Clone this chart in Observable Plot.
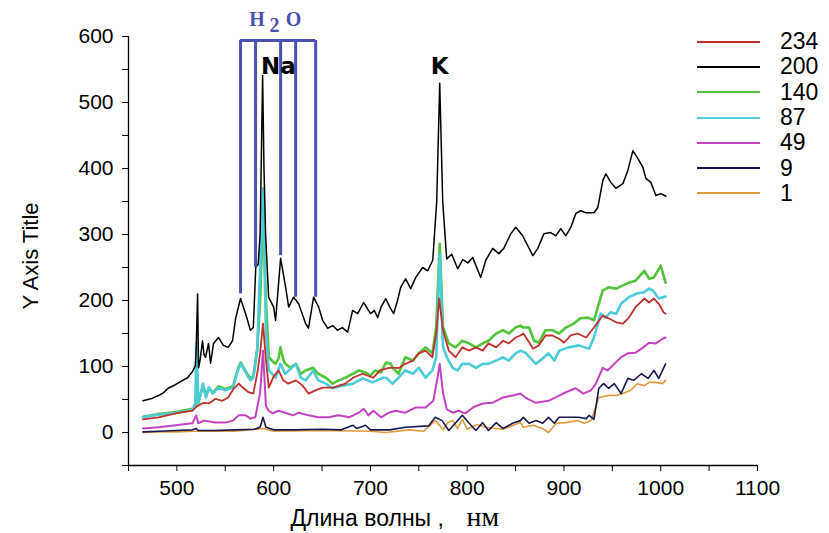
<!DOCTYPE html>
<html><head><meta charset="utf-8">
<script src="https://cdn.jsdelivr.net/npm/d3@7"></script>
<script src="https://cdn.jsdelivr.net/npm/@observablehq/plot@0.6"></script>
<style>
body{margin:0;background:#fff;}
#wrap{position:relative;width:829px;height:533px;font-family:"Liberation Sans",Arial,sans-serif;background:#fff;}
#legend{position:absolute;left:697px;top:29px;}
.row{display:flex;align-items:center;height:25.3px;}
.sw{width:63px;height:0;border-top-style:solid;margin-right:20px;}
.lab{font-size:23px;color:#000;line-height:1;}
</style></head><body><div id="wrap"></div>
<script>
// ---- data ----
const seriesNames = ["234","200","140","87","49","9","1"];

const wl200 = [465,470,475,481,486,491,498,506,511,516,519,520,521.4,522.4,524,526.5,528,529.6,532.7,534.8,537.9,543,548,553,557.5,560.7,565.8,571,576,579,581.5,584,586,588.6,590,591.7,594.8,600,602,607.2,612.4,615.5,620.6,625.8,633,636,641.3,646.5,650.6,655.8,661,666,671,676.5,681.6,686.8,693,698,700.3,704,707.5,711,715.8,720,724,728,731.3,736.4,741.6,746.8,754,759.2,764.4,768.5,771.6,774.7,778.8,784,790.2,795.4,800.6,805.7,814,819.2,826.4,832.6,837.8,845,850.2,857.4,867.8,873,879.2,886.4,891.6,896.7,901.9,907.1,912.3,917.4,922.6,930.9,935,940.2,943.3,948.4,953.6,960.9,966,971.2,976.4,981.5,984.6,989.8,995,1000.2,1005.3];
const v200 = [48,50,52,56,60,67,72,79,83,92,101,130,210,98,110,139,118,114,135,105,135,144,132,129,139,173,203,180,155,159,250,255,300,541,400,300,205,190,170,264,220,190,205,195,165,158,205,190,170,158,162,155,159,152,185,180,197,185,180,185,174,190,203,190,180,200,220,233,218,235,250,245,261,350,529,350,263,270,248,262,257,265,235,261,279,271,279,301,311,298,268,279,301,303,298,309,298,311,332,336,333,333,341,382,392,379,370,377,397,427,415,402,385,379,359,362,358];

const wl140 = [465,481,499,516,519,521,522,527,530,533,537,543,550,558,563,566,571,576,579,583,586,589,592,595,599,602,605,607,610,612,617,623,628,633,641,646,654,661,667,674,682,688,695,700,705,711,716,721,723,729,736,744,750,757,764,768,771.6,775,781,788,795,802,809,816,822,830,837,843,850,855,858,864,869,874,881,888,895,902,910,917,925,931,940,946,954,961,967,974,983,988,993,1000,1005];
const v140 = [24,28,31,36,40,70,44,72,55,68,60,70,66,70,96,106,93,82,85,126,200,330,200,114,108,104,112,129,110,104,98,104,89,94,98,89,83,74,79,83,89,94,91,86,94,91,106,104,98,89,114,109,120,129,120,160,286,160,135,129,139,135,129,135,139,150,155,150,159,162,159,159,139,136,155,155,150,159,165,173,174,170,215,220,218,223,227,230,245,233,235,253,227];

const wl87 = [465,481,499,516,519,520.5,522,527,530,533,537,543,550,558,563,566,571,576,579,583,586,589,592,595,602,607,612,623,628,633,641,646,654,661,671,682,692,702,713,716,723,729,736,744,750,757,764,768,771.6,775,779,785,790,795,802,809,816,822,830,837,843,850,855,860,871,878,884,890,895,905,915,926,931,938,943,948,954,959,967,976,982,988,992,998,1005];
const v87 = [23,27,30,34,44,135,44,74,53,68,59,68,64,68,94,104,91,79,83,124,250,370,155,94,83,104,89,104,83,79,94,79,74,67,71,74,82,76,83,83,74,83,94,89,98,83,94,114,270,130,114,98,94,104,104,98,104,104,109,114,109,120,124,121,104,112,120,109,124,129,132,127,144,180,174,182,180,195,205,211,212,218,215,203,206];

const wl234 = [465,481,499,516,521,528,533,540,547,553,559,564,569,574,579,583,586,589,592,595,600,605,610,615,623,630,636,645,651,661,674,682,692,703,710,719,730,736,744,750,757,764,768,771,775,781,788,795,802,809,816,822,830,837,843,850,855,858,863,868,874,881,888,895,900,907,914,923,931,940,946,954,961,967,974,983,988,993,998,1003,1005];
const v234 = [20,23,29,33,40,45,44,51,48,53,67,74,67,61,59,89,120,165,110,68,85,94,79,74,79,71,59,65,68,68,74,83,89,83,94,98,98,104,109,120,124,114,150,203,155,124,114,129,124,129,124,135,129,139,135,144,147,150,139,127,132,147,147,142,136,147,150,144,159,177,173,167,165,174,190,203,197,203,195,182,180];

const wl49 = [465,481,499,516,520,522,528,540,550,558,564,571,576,581,586,589,592,595,599,605,612,620,626,636,646,657,667,678,688,693,698,703,711,719,726,736,747,757,765,769,771.6,775,779,785,791,798,806,816,826,837,847,855,861,871,884,895,902,912,920,928,933,940,945,952,959,966,974,982,988,995,1002,1005];
const v49 = [6,8,11,14,26,14,18,15,15,18,26,26,21,23,60,124,40,33,29,33,30,26,30,26,23,23,26,23,30,36,26,33,23,30,33,30,38,38,48,80,104,60,35,30,33,29,38,44,45,53,56,59,52,45,48,56,61,67,59,64,74,98,94,104,114,120,121,129,136,135,142,144];

const wl9 = [465,481,499,516,520,522,540,560,580,586,589,592,600,620,650,670,682,686,695,700,720,736,760,767,774,781,795,802,809,816,822,830,837,847,855,858,864,871,878,884,890,895,905,915,923,926,931,936,941,946,952,959,966,972,980,987,993,998,1005];
const v9 = [1,2,3,4,6,3,3,4,5,8,23,8,4,4,5,4,11,6,11,4,4,8,10,23,18,3,26,14,3,15,3,15,6,14,18,23,14,18,14,23,14,23,23,23,21,26,20,67,74,67,74,59,82,79,89,82,94,82,104];

const wl1 = [465,481,499,516,540,560,589,600,650,700,716,740,755,767,772,775,780,785,790,795,800,810,819,837,855,858,868,878,884,892,902,914,921,928,936,946,954,961,969,976,983,988,995,1002,1005];
const v1 = [0,1,1,2,2,2,6,2,3,2,0,4,2,18,10,4,15,18,6,20,5,12,8,5,15,8,11,6,0,14,15,18,14,18,53,56,56,59,64,74,71,76,76,74,79];

// annotations
const h2oWl = [565.8, 581.3, 607.2, 622.7, 643.4];
const h2oEnd = [210, 250, 268, 205, 205];
const h2oTop = 594;
const h2oChars = ["H","2","O"];
const h2oCharWl = [582.9, 601, 620.6];
const h2oCharV = [626, 617, 626];
const peakNames = ["Na","K"];
const peakWl = [605, 771.6];
const peakV = [555, 555];

const xTicks = d3.range(450, 1101, 50);
const yTicks = d3.range(-50, 601, 50);
const xTitleMain = "Длина волны ,";
const xTitleUnit = "нм";
const yTitle = "Y Axis Title";

// ---- build ----
const raw = {"234":[wl234,v234],"200":[wl200,v200],"140":[wl140,v140],"87":[wl87,v87],"49":[wl49,v49],"9":[wl9,v9],"1":[wl1,v1]};
const style = {
  "234":{stroke:"#c2302b", w:1.8},
  "200":{stroke:"#000000", w:1.5},
  "140":{stroke:"#52c43a", w:2.6},
  "87":{stroke:"#4ccbd8", w:2.6},
  "49":{stroke:"#c441c2", w:2.0},
  "9":{stroke:"#17174f", w:1.6},
  "1":{stroke:"#e29a3d", w:1.6}
};
const drawOrder = ["140","87","234","49","1","9","200"];
function rows(name){ const [w,v]=raw[name]; return w.map((x,i)=>({wl:x, v:v[i]})); }

const h2oRules = h2oWl.map((w,i)=>({wl:w, end:h2oEnd[i]}));
const h2oText = h2oChars.map((c,i)=>({t:c, wl:h2oCharWl[i], v:h2oCharV[i]}));
const peaks = peakNames.map((n,i)=>({t:n, wl:peakWl[i], v:peakV[i]}));
const blue = "#4a51b4";

const marks = [];
for (const n of drawOrder) {
  marks.push(Plot.line(rows(n), {x:"wl", y:"v", stroke: style[n].stroke, strokeWidth: style[n].w, strokeLinejoin:"round"}));
}
marks.push(
  Plot.ruleX(h2oRules, {x:"wl", y1:"end", y2:()=>h2oTop, stroke:blue, strokeWidth:3}),
  Plot.ruleY([h2oTop], {x1:h2oWl[0], x2:h2oWl[h2oWl.length-1], stroke:blue, strokeWidth:3}),
  Plot.text(h2oText, {x:"wl", y:"v", text:"t", fill:blue, fontSize:20, fontWeight:"bold", fontFamily:"'Liberation Serif','DejaVu Serif',serif"}),
  Plot.text(peaks, {x:"wl", y:"v", text:"t", fill:"#000", fontSize:23, fontWeight:"bold", fontFamily:"'DejaVu Sans','Liberation Sans',sans-serif"}),
  Plot.ruleX([xTicks[0]], {stroke:"#000", strokeWidth:1.3}),
  Plot.ruleY([yTicks[0]], {stroke:"#000", strokeWidth:1.3}),
  Plot.axisX({ticks:xTicks, tickSize:6, tickPadding:9, tickFormat:d=> d%100===0 ? String(d) : "", label:null, fontSize:21, stroke:"#000"}),
  Plot.axisY({ticks:yTicks, tickSize:6, tickPadding:9, tickFormat:d=> (d%100===0 && d>=0) ? String(d) : "", label:null, fontSize:21, stroke:"#000"}),
  Plot.text([yTitle], {frameAnchor:"left", textAnchor:"middle", dx:-98, dy:5, rotate:-90, text:d=>d, fontSize:22, fill:"#000"}),
  Plot.text([xTitleMain], {frameAnchor:"bottom-left", textAnchor:"start", lineAnchor:"bottom", dx:162, dy:60, text:d=>d, fontSize:23, fill:"#000"}),
  Plot.text([xTitleUnit], {frameAnchor:"bottom-left", textAnchor:"start", lineAnchor:"bottom", dx:338, dy:60, text:d=>d, fontSize:28, fill:"#000", fontFamily:"'Liberation Serif',serif"})
);

const chart = Plot.plot({
  width: 829, height: 533,
  marginLeft: 128, marginRight: 72, marginTop: 36, marginBottom: 68,
  style: {fontFamily:"'Liberation Sans',Arial,sans-serif", fontSize:"21px", background:"#fff", color:"#000"},
  x: {domain:[450,1100]},
  y: {domain:[-50,600]},
  marks
});
const wrap = document.getElementById("wrap");
wrap.appendChild(chart);

// legend (inside plot area, top right)
const leg = document.createElement("div");
leg.id = "legend";
for (const n of seriesNames) {
  const r = document.createElement("div"); r.className = "row";
  const s = document.createElement("div"); s.className = "sw";
  s.style.borderTopColor = style[n].stroke; s.style.borderTopWidth = "2px";
  const l = document.createElement("span"); l.className = "lab"; l.textContent = n;
  r.appendChild(s); r.appendChild(l); leg.appendChild(r);
}
wrap.appendChild(leg);
</script>
</body></html>
